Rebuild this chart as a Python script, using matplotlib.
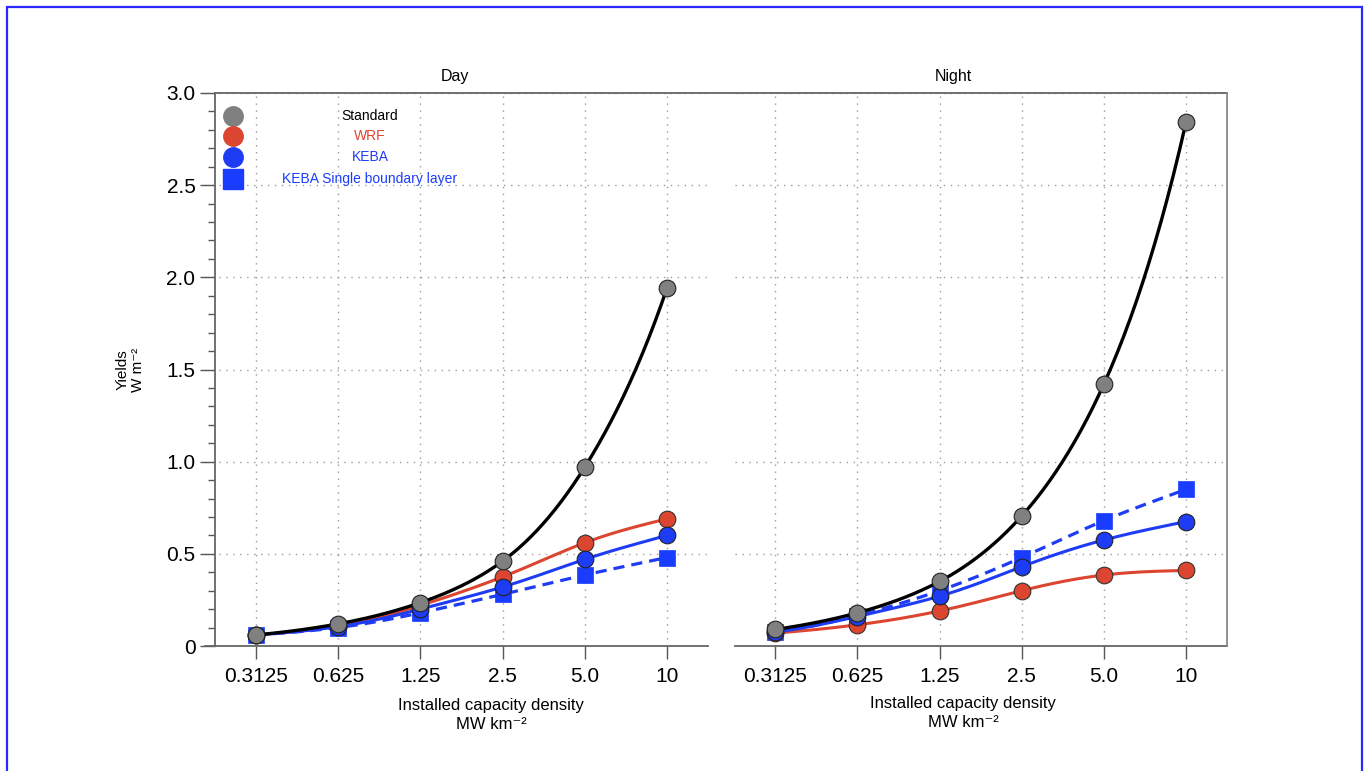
import matplotlib
matplotlib.use("Agg")
import matplotlib.pyplot as plt
import numpy as np
from matplotlib.lines import Line2D
from matplotlib.patches import Rectangle

plt.rcParams['font.family'] = ['Liberation Sans', 'DejaVu Sans']

# installed capacity density (MW km-2) and yields (W m-2)
densities = ["0.3125", "0.625", "1.25", "2.5", "5.0", "10"]

day_standard = [0.06, 0.12, 0.235, 0.46, 0.97, 1.94]
day_wrf = [0.06, 0.11, 0.22, 0.375, 0.56, 0.69]
day_keba = [0.06, 0.105, 0.20, 0.32, 0.47, 0.60]
day_keba_sbl = [0.06, 0.10, 0.18, 0.28, 0.385, 0.48]

night_standard = [0.09, 0.18, 0.35, 0.705, 1.42, 2.84]
night_wrf = [0.07, 0.115, 0.19, 0.30, 0.385, 0.41]
night_keba = [0.075, 0.16, 0.27, 0.43, 0.575, 0.675]
night_keba_sbl = [0.075, 0.165, 0.30, 0.48, 0.68, 0.85]

grey = "#808080"
red = "#dc4530"
blue = "#1f3cf5"
sq_blue = "#1a3cff"


def smooth(y, n=200):
    # natural cubic spline through log of the points, drawn in index space
    x = np.arange(len(y), dtype=float)
    y = np.log(np.asarray(y, dtype=float))
    m = len(x)
    A = np.zeros((m, m))
    b = np.zeros(m)
    A[0, 0] = A[-1, -1] = 1
    for i in range(1, m - 1):
        A[i, i - 1], A[i, i], A[i, i + 1] = 1, 4, 1
        b[i] = 6 * (y[i + 1] - 2 * y[i] + y[i - 1])
    M = np.linalg.solve(A, b)
    xs = np.linspace(0, m - 1, n)
    k = np.clip(xs.astype(int), 0, m - 2)
    t = xs - k
    ys = ((1 - t) * y[k] + t * y[k + 1]
          + ((1 - t) ** 3 - (1 - t)) * M[k] / 6 + (t ** 3 - t) * M[k + 1] / 6)
    return xs, np.exp(ys)


fig = plt.figure(figsize=(13.69, 7.71), dpi=100)
W, H = 1369, 771
ax1 = fig.add_axes([205 / W, 1 - 646 / H, 503 / W, 553 / H])
ax2 = fig.add_axes([735 / W, 1 - 646 / H, 492 / W, 553 / H])

idx = np.arange(len(densities))
panels = [(ax1, day_standard, day_wrf, day_keba, day_keba_sbl),
          (ax2, night_standard, night_wrf, night_keba, night_keba_sbl)]

for ax, std, wrf, keba, sbl in panels:
    xs, ys = smooth(sbl)
    ax.plot(xs, ys, color=blue, lw=2.3, ls=(0, (3.5, 2.2)), zorder=3)
    ax.plot(idx, sbl, "s", ms=11, color=sq_blue, mec=sq_blue, mew=0.5, zorder=4)
    xs, ys = smooth(wrf)
    ax.plot(xs, ys, color=red, lw=2.2, zorder=5)
    ax.plot(idx, wrf, "o", ms=12, mfc=red, mec="#333333", mew=0.8, zorder=6)
    xs, ys = smooth(keba)
    ax.plot(xs, ys, color=blue, lw=2.2, zorder=7)
    ax.plot(idx, keba, "o", ms=12, mfc=blue, mec="#222222", mew=0.8, zorder=8)
    xs, ys = smooth(std)
    ax.plot(xs, ys, color="black", lw=2.4, zorder=9)
    ax.plot(idx, std, "o", ms=12, mfc=grey, mec="#222222", mew=0.8, zorder=10)

    ax.set_ylim(0, 3.0)
    ax.set_xticks(idx)
    ax.set_xticklabels(densities, fontsize=15)
    ax.tick_params(axis="x", length=9, width=1, color="#555555", pad=6)
    ax.grid(True, which="major", ls=(0, (1, 4)), color="#999999", lw=1)
    ax.set_yticks(np.arange(0, 3.01, 0.5))
    for s in ["top", "right", "left"]:
        ax.spines[s].set_visible(False)
    ax.spines["bottom"].set_color("#666666")
    ax.spines["bottom"].set_linewidth(1.3)
    ax.patch.set_visible(False)

ax1.set_xlim(-0.62, 5.5)
ax2.set_xlim(-0.49, 5.5)

# left axis with minor ticks
ax1.spines["left"].set_visible(True)
ax1.spines["left"].set_position(("data", -0.5))
ax1.spines["left"].set_color("#666666")
ax1.spines["left"].set_linewidth(1.3)
ax1.set_yticks(np.arange(0, 3.01, 0.1), minor=True)
ax1.set_yticklabels(["0", "0.5", "1.0", "1.5", "2.0", "2.5", "3.0"], fontsize=15)
ax1.tick_params(axis="y", which="major", length=11, width=1, color="#555555", pad=3)
ax1.tick_params(axis="y", which="minor", length=5, width=1, color="#555555")
ax2.tick_params(axis="y", which="both", length=0, labelleft=False)

# frame: continuous top line and right edge
fig.add_artist(Line2D([215 / W, 1227 / W], [1 - 93 / H, 1 - 93 / H],
                      color="#666666", lw=1.3))
fig.add_artist(Line2D([1227 / W, 1227 / W], [1 - 93 / H, 1 - 646 / H],
                      color="#888888", lw=1.3))

# titles
ax1.text(0.497, 1.029, "Day", transform=ax1.transAxes, ha="center", va="center", fontsize=11.5)
ax2.text(0.443, 1.029, "Night", transform=ax2.transAxes, ha="center", va="center", fontsize=11.5)

# axis labels
xl = "Installed capacity density\nMW km⁻²"
fig.text(491 / W, 1 - 715 / H, xl, ha="center", va="center", fontsize=12, linespacing=1.3)
fig.text(963 / W, 1 - 713 / H, xl, ha="center", va="center", fontsize=12, linespacing=1.3)
fig.text(130 / W, 1 - 370 / H, "Yields\nW m⁻²", rotation=90, ha="center", va="center",
         fontsize=11, linespacing=1.15, multialignment="center")

# legend
leg_rows = [("Standard", "o", grey, "black"),
            ("WRF", "o", red, red),
            ("KEBA", "o", blue, blue),
            ("KEBA Single boundary layer", "s", sq_blue, sq_blue)]
leg_y = [0.958, 0.922, 0.884, 0.844]
for (label, mk, mc, tc), yy in zip(leg_rows, leg_y):
    ax1.plot([0.0557], [yy], mk, ms=14 if mk == "o" else 14.5, color=mc, mec=mc,
             transform=ax1.transAxes, clip_on=False, zorder=12)
    ax1.text(0.328, yy, label, color=tc, fontsize=10, ha="center", va="center",
             transform=ax1.transAxes)

# blue page border
fig.add_artist(Rectangle((7 / W, -0.05), 1355 / W, 1.05 - 7 / H, transform=fig.transFigure,
                         fill=False, ec="#2a2aff", lw=1.6))

fig.savefig("out.png", dpi=100)
